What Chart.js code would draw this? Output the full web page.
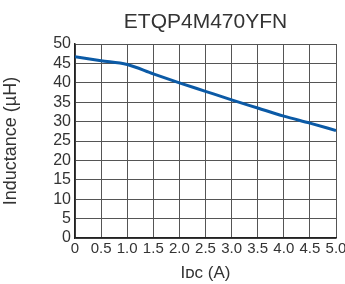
<!DOCTYPE html>
<html>
<head>
<meta charset="utf-8">
<script src="https://cdn.jsdelivr.net/npm/chart.js@4"></script>
<style>
  html, body { margin: 0; padding: 0; background: #fff; }
  #wrap { width: 345px; height: 284px; }
</style>
</head>
<body>
<div id="wrap"><canvas id="chart"></canvas></div>
<script>
const chartTitle = "ETQP4M470YFN";
const currentA = [0, 0.5, 1.0, 1.5, 2.0, 2.5, 3.0, 3.5, 4.0, 4.5, 5.0];
const inductanceUH = [46.7, 45.7, 44.7, 42.3, 40.0, 37.8, 35.6, 33.5, 31.4, 29.6, 27.7];

const textColor = "#333";
const fontFamily = "'Liberation Sans', Arial, sans-serif";

// title drawn centred over the plot area, like the datasheet
const plotTitle = {
  id: "plotTitle",
  afterDraw(chart) {
    const { ctx, chartArea } = chart;
    ctx.save();
    ctx.fillStyle = textColor;
    ctx.font = "21px " + fontFamily;
    ctx.textAlign = "center";
    ctx.textBaseline = "alphabetic";
    ctx.fillText(chartTitle, (chartArea.left + chartArea.right) / 2, 28);
    ctx.restore();
  },
};

new Chart(document.getElementById("chart"), {
  type: "line",
  data: {
    datasets: [
      {
        data: currentA.map((x, i) => ({ x: x, y: inductanceUH[i] })),
        borderColor: "#0b5aa6",
        borderWidth: 3,
        pointRadius: 0,
        cubicInterpolationMode: "monotone",
        fill: false,
      },
    ],
  },
  options: {
    responsive: true,
    maintainAspectRatio: false,
    animation: false,
    layout: { padding: { top: 44, right: 9, left: 0, bottom: 0 } },
    plugins: {
      legend: { display: false },
      tooltip: { enabled: false },
    },
    scales: {
      x: {
        type: "linear",
        min: 0,
        max: 5,
        ticks: {
          stepSize: 0.5,
          autoSkip: false,
          maxRotation: 0,
          padding: 2,
          color: textColor,
          font: { family: fontFamily, size: 15 },
          callback: (v) => (v === 0 ? "0" : v.toFixed(1)),
        },
        grid: { display: true, drawOnChartArea: true, color: "#555", lineWidth: 1, drawTicks: false },
        border: { color: "#222", width: 1.5 },
        title: {
          display: true,
          text: "I\u1D05\u1D04 (A)",
          color: textColor,
          font: { family: fontFamily, size: 17 },
          padding: { top: 2, bottom: 0 },
        },
        afterFit: (scale) => {
          scale.height = 46;
          scale.paddingRight = 0; // let the last label run off the edge
          scale.paddingLeft = 0;
        },
      },
      y: {
        min: 0,
        max: 50,
        ticks: {
          stepSize: 5,
          autoSkip: false,
          padding: 4,
          color: textColor,
          font: { family: fontFamily, size: 16 },
        },
        grid: { color: "#555", lineWidth: 1, drawTicks: false },
        border: { color: "#222", width: 1.5 },
        title: {
          display: true,
          text: "Inductance (\u00B5H)",
          color: textColor,
          font: { family: fontFamily, size: 18 },
          padding: { top: 0, bottom: 4 },
        },
        afterFit: (scale) => { scale.width = 75; },
      },
    },
  },
  plugins: [plotTitle],
});
</script>
</body>
</html>
